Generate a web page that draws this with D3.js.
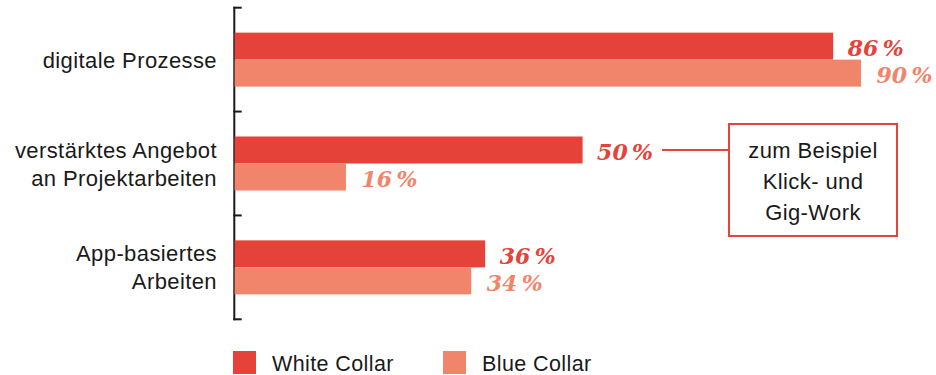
<!DOCTYPE html>
<html>
<head>
<meta charset="utf-8">
<script src="https://cdn.jsdelivr.net/npm/d3@7"></script>
<style>
  html, body { margin: 0; padding: 0; background: #fff; }
  svg { display: block; }
</style>
</head>
<body>
<svg id="chart" width="936" height="375"></svg>
<script>
// Categories (each entry is a list of label lines)
const categories = [
  ["digitale Prozesse"],
  ["verstärktes Angebot", "an Projektarbeiten"],
  ["App-basiertes", "Arbeiten"]
];
const seriesNames = ["White Collar", "Blue Collar"];
const whiteCollar = [86, 50, 36];
const blueCollar = [90, 16, 34];
const calloutLines = ["zum Beispiel", "Klick- und", "Gig-Work"];

const colors = { white: "#e5433a", blue: "#f0856c" };
const sans = "'Liberation Sans', Arial, Helvetica, sans-serif";
const serif = "'DejaVu Serif', Georgia, serif";
const sansSpacing = 0.4;

const svg = d3.select("#chart");

const x = d3.scaleLinear().domain([0, 100]).range([234.6, 930.6]);
const y = d3.scaleBand().domain(d3.range(categories.length)).range([7.7, 319.3]).padding(0);
const barH = 27;

// Axis: vertical rule with short ticks at band boundaries
const tickPos = y.domain().map(i => y(i)).concat([y.range()[1]]);
const axisG = svg.append("g");
axisG.append("line")
  .attr("x1", 234.3).attr("x2", 234.3)
  .attr("y1", tickPos[0] - 1).attr("y2", tickPos[tickPos.length - 1] + 1)
  .attr("stroke", "#1a1a1a").attr("stroke-width", 2);
axisG.selectAll("line.tick").data(tickPos).join("line")
  .attr("class", "tick")
  .attr("x1", 233.3).attr("x2", 241.7)
  .attr("y1", d => d).attr("y2", d => d)
  .attr("stroke", "#1a1a1a").attr("stroke-width", 2);

// Bars
const rows = categories.map((c, i) => ({ i, white: whiteCollar[i], blue: blueCollar[i] }));
const center = i => y(i) + y.bandwidth() / 2;

const barG = svg.append("g");
barG.selectAll("rect.white").data(rows).join("rect")
  .attr("class", "white")
  .attr("x", x(0)).attr("y", d => center(d.i) - barH)
  .attr("width", d => x(d.white) - x(0)).attr("height", barH)
  .attr("fill", colors.white);
barG.selectAll("rect.blue").data(rows).join("rect")
  .attr("class", "blue")
  .attr("x", x(0)).attr("y", d => center(d.i))
  .attr("width", d => x(d.blue) - x(0)).attr("height", barH)
  .attr("fill", colors.blue);

// Value labels
const labelG = svg.append("g")
  .attr("font-family", serif).attr("font-weight", "bold")
  .attr("font-style", "italic").attr("font-size", 22);
const pct = v => v + "\u2009%";
const whiteLabels = labelG.selectAll("text.white").data(rows).join("text")
  .attr("class", "white")
  .attr("x", d => x(d.white) + 14.5)
  .attr("y", d => center(d.i) - barH / 2 + 2)
  .attr("dominant-baseline", "central")
  .attr("fill", colors.white)
  .text(d => pct(d.white));
labelG.selectAll("text.blue").data(rows).join("text")
  .attr("class", "blue")
  .attr("x", d => x(d.blue) + 15.5)
  .attr("y", d => center(d.i) + barH / 2 + 2)
  .attr("dominant-baseline", "central")
  .attr("fill", colors.blue)
  .text(d => pct(d.blue));

// Category labels
const catG = svg.append("g")
  .attr("font-family", sans).attr("font-size", 22).attr("fill", "#1a1a1a")
  .attr("letter-spacing", sansSpacing)
  .attr("text-anchor", "end");
const lineH = 28;
catG.selectAll("text").data(categories).join("text")
  .attr("x", 217)
  .attr("y", (d, i) => center(i) - (d.length - 1) * lineH / 2 + 8)
  .each(function (d) {
    d3.select(this).selectAll("tspan").data(d).join("tspan")
      .attr("x", 217)
      .attr("dy", (t, k) => k === 0 ? 0 : lineH)
      .text(t => t);
  });

// Callout for the project-work bar
const box = { x: 729, y: 124, w: 168, h: 112 };
const calloutRow = 1;
const anchorLabel = whiteLabels.filter(d => d.i === calloutRow).node();
const labelEnd = x(whiteCollar[calloutRow]) + 14.5 + anchorLabel.getComputedTextLength();
const cy = center(calloutRow) - barH / 2;
svg.append("line")
  .attr("x1", labelEnd + 9).attr("x2", box.x)
  .attr("y1", cy).attr("y2", cy)
  .attr("stroke", colors.white).attr("stroke-width", 2);
svg.append("rect")
  .attr("x", box.x).attr("y", box.y).attr("width", box.w).attr("height", box.h)
  .attr("fill", "#fff").attr("stroke", colors.white).attr("stroke-width", 2);
svg.append("g")
  .attr("font-family", sans).attr("font-size", 22).attr("fill", "#1a1a1a")
  .attr("letter-spacing", sansSpacing)
  .attr("text-anchor", "middle")
  .selectAll("text").data(calloutLines).join("text")
  .attr("x", box.x + box.w / 2)
  .attr("y", (d, k) => 158 + k * 31)
  .text(d => d);

// Legend
const legend = svg.append("g").attr("font-family", sans).attr("font-size", 21.5)
  .attr("letter-spacing", sansSpacing).attr("fill", "#1a1a1a");
const legendX = [233, 443];
const legendColors = [colors.white, colors.blue];
const items = legend.selectAll("g").data(seriesNames).join("g")
  .attr("transform", (d, i) => `translate(${legendX[i]},351)`);
items.append("rect").attr("width", 23).attr("height", 23)
  .attr("fill", (d, i) => legendColors[i]);
items.append("text").attr("x", 39).attr("y", 19.5).text(d => d);
</script>
</body>
</html>
